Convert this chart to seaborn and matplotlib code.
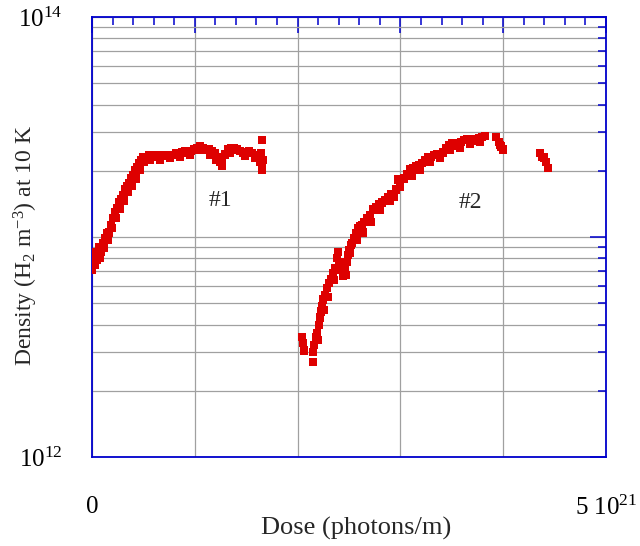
import numpy as np
import pandas as pd
import matplotlib
matplotlib.use("Agg")
import matplotlib.pyplot as plt
import seaborn as sns
from matplotlib.ticker import MultipleLocator, LogLocator, NullFormatter, FixedLocator, FixedFormatter

# ---------------- data (dose in units of 1e21 photons/m, density in units of 1e13 m^-3)
dose1_e21 = [0.000, 0.000, 0.010, 0.029, 0.039, 0.049, 0.068, 0.088, 0.107, 0.126,
             0.146, 0.165, 0.185, 0.204, 0.224, 0.243, 0.263, 0.282, 0.302, 0.321,
             0.340, 0.360, 0.379, 0.399, 0.418, 0.438, 0.457, 0.477, 0.496, 0.525,
             0.554, 0.584, 0.613, 0.642, 0.671, 0.700, 0.730, 0.759, 0.788, 0.817,
             0.846, 0.875, 0.905, 0.934, 0.963, 0.992, 1.021, 1.051, 1.080, 1.109,
             1.138, 1.167, 1.196, 1.226, 1.245, 1.265, 1.294, 1.323, 1.352, 1.381,
             1.411, 1.440, 1.469, 1.498, 1.527, 1.556, 1.586, 1.615, 1.634, 1.644,
             1.654, 1.654, 1.663,
             0.078, 0.117, 0.156, 0.195, 0.233, 0.272, 0.311, 0.350, 0.389, 0.428,
             0.467, 0.506, 0.564, 0.661, 0.759, 0.856, 0.953, 1.051, 1.148, 1.206,
             1.265, 1.342, 1.488, 1.586, 1.654]
dens1_e13 = [0.708, 0.770, 0.819, 0.746, 0.855, 0.786, 0.900, 0.855, 0.939, 0.989,
             1.04, 1.05, 1.13, 1.22, 1.30, 1.35, 1.43, 1.49, 1.55, 1.64,
             1.70, 1.76, 1.85, 1.91, 2.00, 2.08, 2.17, 2.24, 2.29, 2.31,
             2.34, 2.31, 2.34, 2.31, 2.34, 2.34, 2.36, 2.34, 2.36, 2.41,
             2.38, 2.43, 2.46, 2.43, 2.46, 2.49, 2.54, 2.59, 2.54, 2.49,
             2.51, 2.46, 2.41, 2.29, 2.19, 2.26, 2.38, 2.49, 2.54, 2.54,
             2.49, 2.46, 2.41, 2.43, 2.46, 2.41, 2.36, 2.29, 2.21, 2.41,
             2.76, 2.10, 2.24,
             0.803, 0.891, 0.969, 1.10, 1.22, 1.35, 1.47, 1.60, 1.72, 1.85,
             2.02, 2.19, 2.24, 2.24, 2.29, 2.31, 2.36, 2.49, 2.36, 2.24,
             2.12, 2.43, 2.34, 2.29, 2.02]

dose2_e21 = [2.043, 2.053, 2.062, 2.150, 2.150, 2.160, 2.179, 2.189, 2.208, 2.218,
             2.228, 2.237, 2.247, 2.267, 2.286, 2.305, 2.325, 2.344, 2.364, 2.383,
             2.393, 2.403, 2.422, 2.442, 2.461, 2.481, 2.490, 2.500, 2.510, 2.529,
             2.549, 2.568, 2.588, 2.607, 2.626, 2.646, 2.675, 2.704, 2.733, 2.763,
             2.792, 2.821, 2.850, 2.879, 2.909, 2.938, 2.957, 2.977, 3.035, 3.064,
             3.093, 3.123, 3.152, 3.181, 3.210, 3.239, 3.268, 3.298, 3.327, 3.356,
             3.385, 3.414, 3.444, 3.473, 3.502, 3.531, 3.560, 3.589, 3.619, 3.648,
             3.677, 3.706, 3.735, 3.765, 3.794, 3.823, 3.930, 3.959, 3.979, 3.998,
             4.358, 4.377, 4.416, 4.436,
             2.198, 2.257, 2.296, 2.354, 2.432, 2.471, 2.519, 2.578, 2.636, 2.714,
             2.802, 2.899, 2.996, 3.113, 3.191, 3.288, 3.385, 3.482, 3.580, 3.677,
             3.774, 3.969, 4.397]
dens2_e13 = [0.351, 0.330, 0.306, 0.270, 0.300, 0.323, 0.348, 0.366, 0.398, 0.429,
             0.457, 0.486, 0.518, 0.545, 0.587, 0.618, 0.645, 0.686, 0.723, 0.803,
             0.855, 0.770, 0.708, 0.665, 0.723, 0.770, 0.828, 0.873, 0.846, 0.939,
             0.989, 1.04, 1.09, 1.12, 1.13, 1.17, 1.22, 1.26, 1.33, 1.37,
             1.40, 1.44, 1.47, 1.52, 1.57, 1.52, 1.64, 1.82, 1.85, 1.93,
             2.02, 2.06, 2.10, 2.12, 2.17, 2.24, 2.29, 2.31, 2.36, 2.38,
             2.38, 2.43, 2.54, 2.62, 2.67, 2.67, 2.59, 2.70, 2.76, 2.79,
             2.79, 2.73, 2.79, 2.82, 2.85, 2.88, 2.85, 2.70, 2.57, 2.49,
             2.41, 2.31, 2.19, 2.06,
             0.340, 0.466, 0.534, 0.638, 0.770, 0.672, 0.920, 0.969, 1.05, 1.17,
             1.33, 1.47, 1.70, 1.91, 2.02, 2.19, 2.29, 2.49, 2.54, 2.67,
             2.70, 2.62, 2.29]

x_tick_labels = ["0", "", "", "", "", r"5 $10^{21}$"]
y_tick_labels = [r"$10^{12}$", "", r"$10^{14}$"]
annotations = ["#1", "#2"]
ann_dose_e21 = [1.25, 3.68]
ann_dens_e13 = [1.47, 1.43]

# ---------------- style
sns.set_style("white")
plt.rcParams["font.family"] = ["Liberation Serif", "DejaVu Serif"]
plt.rcParams["mathtext.fontset"] = "custom"
plt.rcParams["mathtext.rm"] = "Liberation Serif"
plt.rcParams["mathtext.it"] = "Liberation Serif:italic"
plt.rcParams["mathtext.bf"] = "Liberation Serif:bold"

BLUE = "#0000cc"
RED = "#de0000"
GRID = "#a0a0a0"

df = pd.DataFrame({
    "dose": np.concatenate([np.array(dose1_e21), np.array(dose2_e21)]) * 1e21,
    "density": np.concatenate([np.array(dens1_e13), np.array(dens2_e13)]) * 1e13,
    "run": ["#1"] * len(dose1_e21) + ["#2"] * len(dose2_e21),
})

fig = plt.figure(figsize=(6.4, 5.46), dpi=100)
ax = fig.add_axes([92 / 640, 1 - 457 / 546, 514 / 640, 440 / 546])

sns.scatterplot(data=df, x="dose", y="density", marker="s", s=40,
                color=RED, edgecolor="none", linewidth=0, ax=ax, legend=False,
                zorder=3)

ax.set_yscale("log")
ax.set_xlim(0, 5e21)
ax.set_ylim(1e12, 1e14)

ax.xaxis.set_major_locator(FixedLocator([i * 1e21 for i in range(6)]))
ax.xaxis.set_major_formatter(FixedFormatter(x_tick_labels))
ax.xaxis.set_minor_locator(MultipleLocator(0.2e21))
ax.yaxis.set_major_locator(FixedLocator([1e12, 1e13, 1e14]))
ax.yaxis.set_major_formatter(FixedFormatter(y_tick_labels))
ax.yaxis.set_minor_locator(LogLocator(base=10, subs=range(2, 10)))
ax.yaxis.set_minor_formatter(NullFormatter())

ax.tick_params(which="both", direction="in", top=True, right=True,
               color=BLUE, width=1.1, labelsize=18, labelcolor="black")
ax.tick_params(which="major", length=11.5)
ax.tick_params(which="minor", length=6)
ax.tick_params(axis="x", which="major", pad=28)
ax.tick_params(axis="y", which="major", pad=21)

ax.set_axisbelow(True)
ax.grid(True, which="major", axis="x", color=GRID, lw=0.9)
ax.grid(True, which="both", axis="y", color=GRID, lw=0.9)
for s in ax.spines.values():
    s.set_color(BLUE)
    s.set_linewidth(1.3)
    s.set_visible(True)

ax.set_xlabel("Dose (photons/m)", fontsize=19)
ax.xaxis.label.set_va("baseline")
ax.xaxis.set_label_coords((356 - 92) / 514, (457 - 535) / 440)
ax.set_ylabel(r"Density (H$_2$ m$^{-3}$) at 10 K", fontsize=17)
ax.yaxis.label.set_va("center")
ax.yaxis.label.set_ha("center")
ax.yaxis.set_label_coords((26 - 92) / 514, (457 - 245) / 440)

for t, xd, yd in zip(annotations, ann_dose_e21, ann_dens_e13):
    ax.text(xd * 1e21, yd * 1e13, t, ha="center", va="center", fontsize=17)

fig.savefig("out.png", dpi=100)
